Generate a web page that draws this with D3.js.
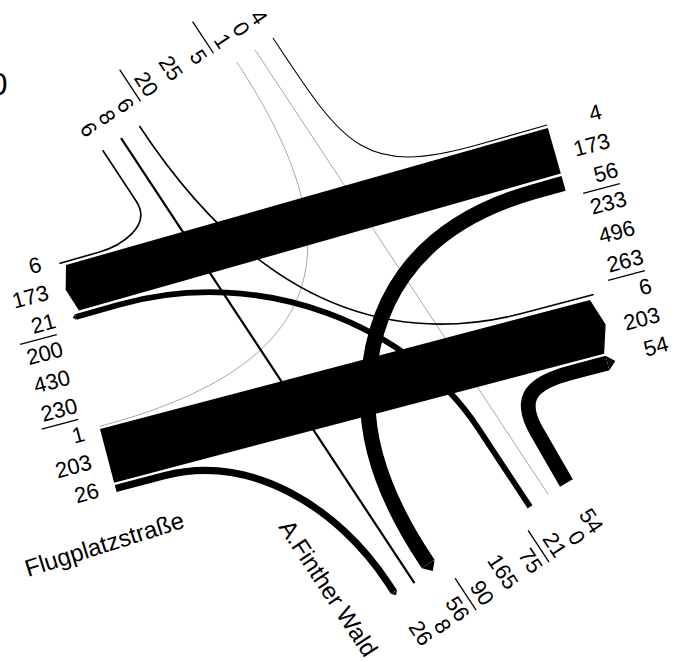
<!DOCTYPE html>
<html>
<head>
<meta charset="utf-8">
<script src="https://cdn.jsdelivr.net/npm/d3@7"></script>
<style>
  body { margin: 0; background: #fff; }
  svg text { font-family: "Liberation Sans", Arial, sans-serif; fill: #000; }
</style>
</head>
<body>
<script>
'use strict';

// counts per movement (O = Ost, W = West, N = Nord, S = Süd), first letter = from
const flowKeys   = ["ON", "OW", "OS", "WN", "WO", "WS", "SW", "SN", "SO", "NW", "NS", "NO"];
const flowValues = [4, 173, 56, 1, 203, 26, 21, 0, 54, 6, 8, 6];

// movements of each arm in label order (three + three)
const westFlows  = ["NW", "OW", "SW", "WN", "WO", "WS"];
const eastFlows  = ["ON", "OW", "OS", "NO", "WO", "SO"];
const northFlows = ["ON", "SN", "WN", "NO", "NS", "NW"];
const southFlows = ["SO", "SN", "SW", "OS", "NS", "WS"];

const streetNames = ["Flugplatzstraße", "A.Finther Wald"];

(function() {

  const val = {};
  flowKeys.forEach((k, i) => val[k] = flowValues[i]);

  const svg = d3.select('body').append('svg')
    .attr('width', 675)
    .attr('height', 662);

  // band width proportional to the count
  const wScale = d3.scaleLinear().domain([0, 203]).range([0, 55.5]);
  const w = k => Math.max(0.35, wScale(val[k]));
  const tip = k => 0.55 * w(k);

  // local frames: u along the road, v across it
  function frame(origin, deg) {
    const a = deg * Math.PI / 180;
    const d = [Math.cos(a), Math.sin(a)], n = [-Math.sin(a), Math.cos(a)];
    const f = (u, v) => [origin[0] + u * d[0] + v * n[0], origin[1] + u * d[1] + v * n[1]];
    f.d = d; f.n = n;
    return f;
  }
  const U = frame([66, 265], -15.87);   // westbound band
  const L = frame([100, 429], -14.75);  // eastbound band
  const X = frame([0, 0], 56.6);        // cross road
  const C = (p, s) => X(s, -p);
  const ec = X.d;
  const add = (P, v, k) => [P[0] + k * v[0], P[1] + k * v[1]];

  const lenU = 501, lenL = 506.7, gap = 2.5;
  const sNorth = 182, sSouth = 715;
  const laneP = [207, 185.5, 163.5, 47, 25, 3];
  const pN = k => laneP[northFlows.indexOf(k)];
  const pS = k => laneP[southFlows.indexOf(k)];

  const wOW = wScale(val.OW), wWO = wScale(val.WO);
  const vAbove = k => -(gap + w(k) / 2);
  const vBelowU = k => wOW + gap + w(k) / 2;
  const vBelowL = k => wWO + gap + w(k) / 2;

  const mv = (p, P) => p.moveTo(P[0], P[1]);
  const ln = (p, P) => p.lineTo(P[0], P[1]);
  const cb = (p, A, B, P) => p.bezierCurveTo(A[0], A[1], B[0], B[1], P[0], P[1]);

  const geom = {
    NS: p => { mv(p, C(pN('NS'), sNorth)); ln(p, C(pS('NS'), sSouth)); },
    SN: p => { mv(p, C(pS('SN'), sSouth)); ln(p, C(pN('SN'), sNorth)); },
    NW: p => {
      const v = vAbove('NW'), a = C(pN('NW'), sNorth), b = C(pN('NW'), 243), e = U(35, v);
      mv(p, a); ln(p, b); cb(p, add(b, ec, 30), add(e, U.d, 22), e); ln(p, U(-6, v));
    },
    NO: p => {
      const v = vAbove('NO') - 1, a = C(pN('NO'), sNorth), e = L(440, v);
      mv(p, a); cb(p, add(a, ec, 200), add(e, L.d, -150), e); ln(p, L(lenL + 5, v));
    },
    WN: p => {
      const a = L(0, vAbove('WN')), e = C(pN('WN'), sNorth);
      mv(p, a); cb(p, add(a, L.d, 240), add(e, ec, 220), e);
    },
    ON: p => {
      const v = vAbove('ON'), a = U(lenU, v), b = U(430, v), e = C(pN('ON'), sNorth);
      mv(p, a); ln(p, b); cb(p, add(b, U.d, -120), add(e, ec, 130), e);
    },
    SW: p => {
      const v = vBelowU('SW'), a = C(pS('SW'), sSouth), b = C(pS('SW'), 620), e = U(40, v);
      mv(p, a); ln(p, b); cb(p, add(b, ec, -120), add(e, U.d, 150), e); ln(p, U(-8 + tip('SW'), v));
    },
    OS: p => {
      const v = vBelowU('OS'), a = U(lenU, v), b = U(470, v), m = C(87, 536), e = C(pS('OS'), 700);
      mv(p, a); ln(p, b);
      cb(p, add(b, U.d, -130), [m[0], m[1] - 90], m);
      cb(p, [m[0], m[1] + 60], add(e, ec, -50), e);
      ln(p, C(pS('OS'), sSouth - tip('OS')));
    },
    WS: p => {
      const v = vBelowL('WS'), a = L(0, v), b = L(50, v), e = C(pS('WS'), 700);
      mv(p, a); ln(p, b); cb(p, add(b, L.d, 90), add(e, ec, -90), e);
      ln(p, C(pS('WS'), sSouth - tip('WS')));
    },
    SO: p => {
      const v = vBelowL('SO'), a = C(pS('SO'), sSouth), b = C(210.5, 656), e = L(470, v);
      const len = Math.hypot(b[0] - a[0], b[1] - a[1]);
      const dir = [(b[0] - a[0]) / len, (b[1] - a[1]) / len];
      mv(p, a); ln(p, b); cb(p, add(b, dir, 40), add(e, L.d, -40), e);
      ln(p, L(lenL + 9 - tip('SO'), v));
    }
  };

  // arrow tip, sized by stroke width
  svg.append('defs').append('marker')
    .attr('id', 'tip')
    .attr('markerUnits', 'strokeWidth')
    .attr('viewBox', '0 -0.5 0.55 1')
    .attr('refX', 0).attr('refY', 0)
    .attr('markerWidth', 0.55).attr('markerHeight', 1)
    .attr('orient', 'auto')
    .append('path')
    .attr('d', 'M0,-0.5L0.55,0L0,0.5Z')
    .attr('fill', '#000');

  const thin = ["NS", "SN", "WN", "ON", "NW", "NO"];
  const thick = ["SW", "OS", "WS", "SO"];

  svg.selectAll('.flow')
    .data(thin.concat(thick))
    .enter()
    .append('path')
    .attr('class', 'flow')
    .attr('d', k => { const p = d3.path(); geom[k](p); return p.toString(); })
    .attr('fill', 'none')
    .attr('stroke', '#000')
    .attr('stroke-width', k => w(k))
    .attr('marker-end', k => thick.includes(k) ? 'url(#tip)' : null);

  // the two main bands
  const bandOW = [U(lenU, 0), U(0, 0), U(-0.15 * wOW, wOW / 2), U(0, wOW), U(lenU, wOW)];
  const bandWO = [L(0, 0), L(lenL, 0), L(lenL + 0.16 * wWO, wWO / 2), L(lenL, wWO), L(0, wWO)];
  svg.selectAll('.band')
    .data([bandOW, bandWO])
    .enter()
    .append('path')
    .attr('class', 'band')
    .attr('d', pts => d3.line()(pts) + 'Z')
    .attr('fill', '#000');

  // label values: three, their sum, total, sum, three
  function armLabels(keys) {
    const v = keys.map(k => val[k]);
    const a = d3.sum(v.slice(0, 3)), b = d3.sum(v.slice(3));
    return [v[0], v[1], v[2], a, a + b, b, v[3], v[4], v[5]].map(String);
  }

  const fs = 22;
  const rotSide = -15;
  const dirSide = [Math.cos(rotSide * Math.PI / 180), Math.sin(rotSide * Math.PI / 180)];
  const upSide = [Math.sin(rotSide * Math.PI / 180), -Math.cos(rotSide * Math.PI / 180)];

  function sideLabels(keys, from, to) {
    const texts = armLabels(keys);
    const pos = texts.map((t, i) => d3.interpolate(from, to)(i / 8));
    svg.append('g').selectAll('text')
      .data(texts)
      .enter()
      .append('text')
      .attr('transform', (t, i) => 'translate(' + pos[i][0] + ',' + pos[i][1] + ')rotate(' + rotSide + ')')
      .attr('text-anchor', 'end')
      .style('font-size', fs + 'px')
      .text(t => t);
    [2, 5].forEach(i => {
      const m = add([(pos[i][0] + pos[i + 1][0]) / 2, (pos[i][1] + pos[i + 1][1]) / 2], upSide, 8);
      const a = add(m, dirSide, -2), b = add(m, dirSide, -40);
      svg.append('line')
        .attr('x1', a[0]).attr('y1', a[1]).attr('x2', b[0]).attr('y2', b[1])
        .attr('stroke', '#000').attr('stroke-width', 1.3);
    });
  }

  const labelP = [laneP[0], laneP[1], laneP[2],
    laneP[2] - (laneP[2] - laneP[3]) / 4,
    laneP[2] - (laneP[2] - laneP[3]) / 2,
    laneP[2] - 3 * (laneP[2] - laneP[3]) / 4,
    laneP[3], laneP[4], laneP[5]];

  function crossLabels(keys, sEnd) {
    const texts = armLabels(keys);
    svg.append('g').selectAll('text')
      .data(texts)
      .enter()
      .append('text')
      .attr('transform', (t, i) => { const P = C(labelP[i], sEnd); return 'translate(' + P[0] + ',' + P[1] + ')rotate(56.6)'; })
      .attr('text-anchor', 'end')
      .attr('dy', '0.35em')
      .style('font-size', fs + 'px')
      .text(t => t);
    [2, 5].forEach(i => {
      const pm = (labelP[i] + labelP[i + 1]) / 2;
      const a = C(pm, sEnd - 1), b = C(pm, sEnd - 39);
      svg.append('line')
        .attr('x1', a[0]).attr('y1', a[1]).attr('x2', b[0]).attr('y2', b[1])
        .attr('stroke', '#000').attr('stroke-width', 1.3);
    });
  }

  sideLabels(westFlows, U(-24, -0.5), L(-17, 66));
  sideLabels(eastFlows, U(556.6, 5.8), L(571, 69));
  crossLabels(northFlows, 163);
  crossLabels(southFlows, 772.5);

  // street names
  const fp = L(-107.3, 124.8);
  svg.append('text')
    .attr('transform', 'translate(' + fp[0] + ',' + fp[1] + ')rotate(-17.5)')
    .style('font-size', '24px')
    .text(streetNames[0]);
  const fw = C(-58, 593);
  svg.append('text')
    .attr('transform', 'translate(' + fw[0] + ',' + fw[1] + ')rotate(56.6)')
    .style('font-size', '24px')
    .text(streetNames[1]);

  // cut-off heading at the left border
  svg.append('text')
    .attr('x', -10.3)
    .attr('y', 95)
    .style('font-size', '32px')
    .text('0');

})();
</script>
</body>
</html>
